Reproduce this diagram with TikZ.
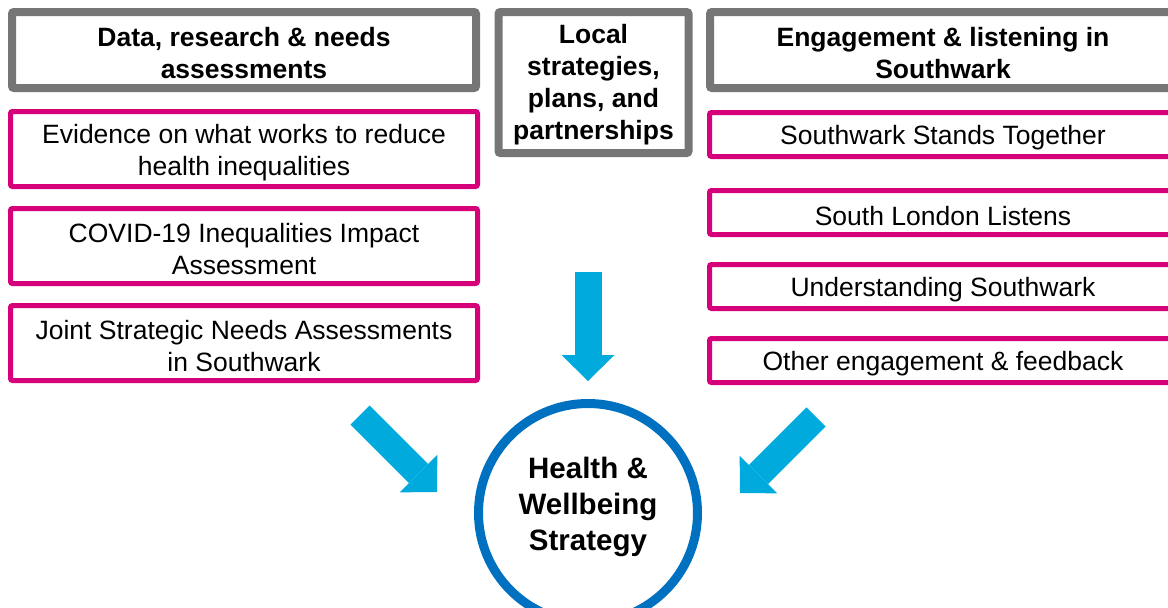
\documentclass[tikz,border=0pt]{standalone}
\usepackage{fontspec}
\setmainfont{Liberation Sans}
\usepackage{tikz}
\usetikzlibrary{arrows.meta, positioning}
\definecolor{headgray}{RGB}{118, 118, 118}
\definecolor{itempink}{RGB}{214, 0, 122}
\definecolor{arrowcyan}{RGB}{0, 170, 221}
\definecolor{circleblue}{RGB}{0, 112, 192}

\begin{document}
\begin{tikzpicture}[
    x=1pt, y=-1pt,
    heading/.style={draw=headgray, fill=white, line width=8pt, rounded corners=2pt, align=center, inner sep=2pt, text height=58pt, font=\fontsize{26.5}{32}\selectfont\bfseries},
    item/.style={draw=itempink, fill=white, line width=5pt, rounded corners=2pt, align=center, inner sep=2pt, minimum width=467pt, text height=58pt, font=\fontsize{26.5}{32}\selectfont},
    single/.style={text height=26pt},
    goal/.style={draw=circleblue, circle, line width=9pt, minimum size=219pt, align=center, inner sep=0pt, font=\fontsize{29.5}{36}\selectfont\bfseries, execute at end node={\rule[-18pt]{0pt}{0pt}}},
    flow/.style={draw=arrowcyan, line width=27pt, -{Triangle[length=26pt, width=53pt, line width=0pt, fill=arrowcyan]}}
]
    \clip (0,0) rectangle (1168,608);

    % Headings
    \node[heading, minimum width=464pt, minimum height=76pt] (datahead) at (244,50) {Data, research \& needs\\assessments};
    \node[heading, minimum width=190pt, minimum height=141pt, text height=119pt] (localhead) at (593.5,82.5) {Local\\strategies,\\plans, and\\partnerships};
    \node[heading, minimum width=466pt, minimum height=76pt] (engagehead) at (943,50) {Engagement \& listening in\\Southwark};

    % Data sources
    \node[item, minimum height=75pt, below=17pt of datahead] (evidence) {Evidence on what works to reduce\\health inequalities};
    \node[item, minimum height=75pt, below=17pt of evidence] (covid) {COVID-19 Inequalities Impact\\Assessment};
    \node[item, minimum height=75pt, below=17pt of covid] (jsna) {Joint Strategic Needs Assessments\\in Southwark};

    % Engagement sources
    \node[item, single, minimum height=44pt, below=18pt of engagehead] (stands) {Southwark Stands Together};
    \node[item, single, minimum height=44pt, below=29pt of stands] (listens) {South London Listens};
    \node[item, single, minimum height=44pt, below=25pt of listens] (understand) {Understanding Southwark};
    \node[item, single, minimum height=44pt, below=25pt of understand] (other) {Other engagement \& feedback};

    % Strategy
    \node[goal] (strategy) at (588,513) {Health \&\\Wellbeing\\Strategy};

    % Arrows into the strategy
    \coordinate (datatail) at (360,415);
    \coordinate (datatip) at (437,492);
    \coordinate (localtail) at (588,272);
    \coordinate (localtip) at (588,381);
    \coordinate (engagetail) at (816,417);
    \coordinate (engagetip) at (740,493);
    \draw[flow] (datatail) -- (datatip);
    \draw[flow] (localtail) -- (localtip);
    \draw[flow] (engagetail) -- (engagetip);
\end{tikzpicture}
\end{document}
